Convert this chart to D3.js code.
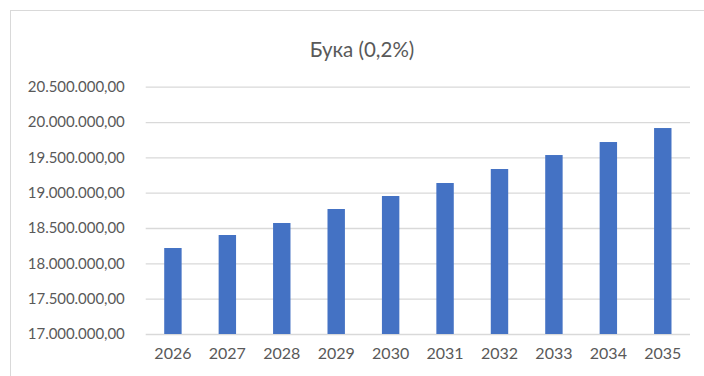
<!DOCTYPE html>
<html>
<head>
<meta charset="utf-8">
<script src="https://cdn.jsdelivr.net/npm/d3@7"></script>
<style>
  body { margin: 0; background: #fff; }
  text { font-family: Lato, "Open Sans", sans-serif; fill: #595959; }
</style>
</head>
<body>
<div id="chart"></div>
<script>
// chart data
var years = ["2026", "2027", "2028", "2029", "2030", "2031", "2032", "2033", "2034", "2035"];
var values = [18217000, 18401000, 18571000, 18769000, 18953000, 19137000, 19335000, 19533000, 19717000, 19915000];
var yTicks = [17000000, 17500000, 18000000, 18500000, 19000000, 19500000, 20000000, 20500000];
var title = "Бука (0,2%)";

var svgWidth = 704;
var svgHeight = 376;

var margin = { top: 86.7, right: 14, bottom: 42, left: 145.7 };
var width = svgWidth - margin.left - margin.right;
var height = svgHeight - margin.top - margin.bottom;

var svg = d3.select("#chart")
  .append("svg")
  .attr("width", svgWidth)
  .attr("height", svgHeight);

// chart border (runs off the right / bottom edge)
svg.append("rect")
  .attr("x", 10.5)
  .attr("y", 10.5)
  .attr("width", svgWidth + 20)
  .attr("height", svgHeight + 20)
  .attr("fill", "none")
  .attr("stroke", "#d9d9d9")
  .attr("stroke-width", 1);

svg.append("text")
  .attr("x", 362)
  .attr("y", 56.5)
  .attr("text-anchor", "middle")
  .attr("font-size", "20.5px")
  .text(title);

var chartGroup = svg.append("g")
  .attr("transform", `translate(${margin.left}, ${margin.top})`);

var x = d3.scaleBand()
  .domain(years)
  .range([0, width])
  .padding(0);

var y = d3.scaleLinear()
  .domain([17000000, 20500000])
  .range([height, 0]);

var fmt = function(v) {
  // 20.500.000,00 style
  return d3.format(",.2f")(v).replace(/,/g, " ").replace(".", ",").replace(/ /g, ".");
};

// gridlines + y labels
var yAxis = d3.axisLeft(y)
  .tickValues(yTicks)
  .tickSize(-width)
  .tickPadding(21)
  .tickFormat(fmt);

var yG = chartGroup.append("g").call(yAxis);
yG.select(".domain").remove();
yG.selectAll(".tick line").attr("stroke", "#d9d9d9").attr("stroke-width", 1.3);
yG.selectAll(".tick text")
  .attr("font-size", "15px")
  .attr("letter-spacing", "-0.05px")
  .attr("fill", "#595959");

// bars
var barW = x.bandwidth() * 0.32;
chartGroup.selectAll(".bar")
  .data(values)
  .enter()
  .append("rect")
  .attr("class", "bar")
  .attr("x", (d, i) => x(years[i]) + (x.bandwidth() - barW) / 2)
  .attr("y", d => y(d))
  .attr("width", barW)
  .attr("height", d => height - y(d))
  .attr("fill", "#4472c4");

// x labels
var xAxis = d3.axisBottom(x).tickSize(0).tickPadding(14);
var xG = chartGroup.append("g")
  .attr("transform", `translate(0, ${height})`)
  .call(xAxis);
xG.select(".domain").remove();
xG.selectAll(".tick text")
  .attr("font-size", "16px")
  .attr("fill", "#595959");
</script>
</body>
</html>
